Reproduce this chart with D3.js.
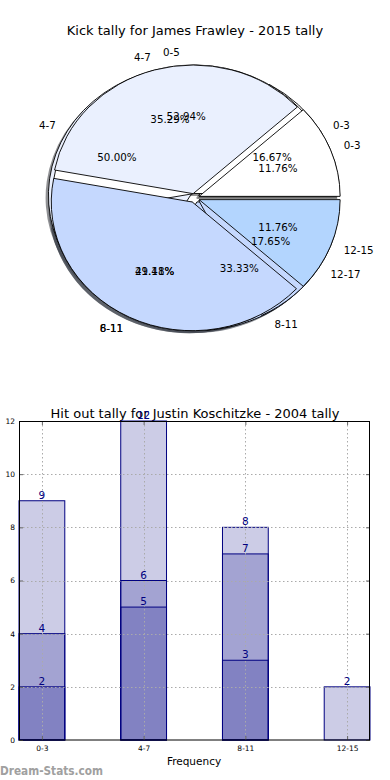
<!DOCTYPE html>
<html>
<head>
<meta charset="utf-8">
<script src="https://cdn.jsdelivr.net/npm/d3@7"></script>
<style>
  body { margin: 0; background: #fff; }
  svg { display: block; font-family: "DejaVu Sans", sans-serif; }
</style>
</head>
<body>
<div id="graf"></div>
<script>
// Pie data (three tallies drawn on top of each other)
const pieTitle = "Kick tally for James Frawley - 2015 tally"
const pieLabelsA = ["0-3", "4-7", "8-11"]
const pieValuesA = [1, 3, 2]
const pieLabelsC = ["0-5", "6-11", "12-17"]
const pieValuesC = [9, 5, 3]
const pieLabelsB = ["0-3", "4-7", "8-11", "12-15"]
const pieValuesB = [2, 6, 7, 2]
const pieColors = ["#ffffff", "#eaf0fe", "#c5d8fe", "#b3d5fe"]

// Bar data
const barTitle = "Hit out tally for Justin Koschitzke - 2004 tally"
const barCats = ["0-3", "4-7", "8-11", "12-15"]
const hitsTop = [9, 12, 8, 2]
const hitsMid = [4, 6, 7, 0]
const hitsLow = [2, 5, 3, 0]
const yTicks = [0, 2, 4, 6, 8, 10, 12]

const draw = () => {
  const W = 390
  const H = 780
  const svg = d3.select("#graf").append("svg").attr("width", W).attr("height", H)

  // ---------- Pie ----------
  const cx = 194.5
  const cy = 198
  const rx = 141
  const ry = 128.6
  const explode = 0.035

  svg.append("text")
    .attr("x", W / 2).attr("y", 35)
    .attr("text-anchor", "middle")
    .style("font-size", "13px")
    .text(pieTitle)

  const pie = d3.pie().sort(null)
    .startAngle(Math.PI / 2)
    .endAngle(Math.PI / 2 - 2 * Math.PI)
  const arc = d3.arc().innerRadius(0).outerRadius(1)
  const pct = d3.format(".2%")

  const pies = [
    { labels: pieLabelsA, values: pieValuesA },
    { labels: pieLabelsC, values: pieValuesC },
    { labels: pieLabelsB, values: pieValuesB },
  ].map((p) => {
    const total = d3.sum(p.values)
    return pie(p.values).map((d, i) => {
      const m = (d.startAngle + d.endAngle) / 2
      return {
        ...d,
        label: p.labels[i],
        share: d.value / total,
        color: pieColors[i],
        ux: Math.sin(m),
        uy: -Math.cos(m),
      }
    })
  })

  const shadowLayer = svg.append("g")
  const wedgeLayer = svg.append("g")
  const textLayer = svg.append("g")

  pies.forEach((slices) => {
    slices.forEach((d) => {
      const ox = cx + rx * explode * d.ux
      const oy = cy + ry * explode * d.uy
      const c = d3.rgb(d.color)
      shadowLayer.append("path")
        .attr("d", arc(d))
        .attr("transform", `translate(${ox - 0.02 * rx}, ${oy + 0.02 * ry}) scale(${rx}, ${ry})`)
        .attr("fill", d3.rgb(c.r * 0.3, c.g * 0.3, c.b * 0.3))
        .attr("fill-opacity", 0.6)
      wedgeLayer.append("path")
        .attr("d", arc(d))
        .attr("transform", `translate(${ox}, ${oy}) scale(${rx}, ${ry})`)
        .attr("fill", d.color)
        .attr("stroke", "#000")
        .attr("stroke-width", 0.9)
        .attr("vector-effect", "non-scaling-stroke")
      // outer labels
      textLayer.append("text")
        .attr("x", ox + 1.1 * rx * d.ux)
        .attr("y", oy + 1.1 * ry * d.uy)
        .attr("dy", "0.35em")
        .attr("text-anchor", d.ux >= 0 ? "start" : "end")
        .style("font-size", "10.3px")
        .text(d.label)
      // percentages
      textLayer.append("text")
        .attr("x", ox + 0.6 * rx * d.ux)
        .attr("y", oy + 0.6 * ry * d.uy)
        .attr("dy", "0.35em")
        .attr("text-anchor", "middle")
        .style("font-size", "10.3px")
        .text(pct(d.share))
    })
  })

  // ---------- Bars ----------
  const x = d3.scaleLinear().domain([-0.225, barCats.length - 1 + 0.225]).range([19, 370])
  const y = d3.scaleLinear().domain([0, 12]).range([740, 421])
  const barW = x(0.45) - x(0)

  svg.append("text")
    .attr("x", W / 2).attr("y", 418)
    .attr("text-anchor", "middle")
    .style("font-size", "13px")
    .text(barTitle)

  const chart = svg.append("g")
  const series = [hitsTop, hitsMid, hitsLow]
  series.forEach((vals) => {
    const rows = vals.map((v, i) => ({ v, i })).filter((d) => d.v > 0)
    chart.append("g")
      .selectAll("rect")
      .data(rows)
      .join("rect")
      .attr("x", (d) => x(d.i) - barW / 2)
      .attr("y", (d) => y(d.v))
      .attr("width", barW)
      .attr("height", (d) => y(0) - y(d.v))
      .attr("fill", "#000080")
      .attr("fill-opacity", 0.2)
      .attr("stroke", "#000080")
      .attr("stroke-width", 1)
  })

  // grid on top of bars
  const grid = svg.append("g")
    .attr("stroke", "#aaa")
    .attr("stroke-dasharray", "1.5,2.5")
    .attr("stroke-width", 1)
  grid.selectAll("line.h").data(yTicks.slice(1, -1)).join("line")
    .attr("x1", 19).attr("x2", 370)
    .attr("y1", (d) => Math.round(y(d)) + 0.5).attr("y2", (d) => Math.round(y(d)) + 0.5)
  grid.selectAll("line.v").data(d3.range(barCats.length)).join("line")
    .attr("y1", 421).attr("y2", 740)
    .attr("x1", (d) => Math.round(x(d)) + 0.5).attr("x2", (d) => Math.round(x(d)) + 0.5)

  // value labels
  series.forEach((vals) => {
    svg.append("g")
      .selectAll("text")
      .data(vals.map((v, i) => ({ v, i })).filter((d) => d.v > 0))
      .join("text")
      .attr("x", (d) => x(d.i))
      .attr("y", (d) => y(d.v) - 2)
      .attr("text-anchor", "middle")
      .attr("fill", "#000080")
      .style("font-size", "10.5px")
      .text((d) => d.v)
  })

  // axes
  const xAxis = d3.axisBottom(x)
    .tickValues(d3.range(barCats.length))
    .tickFormat((d) => barCats[d])
    .tickSize(-4).tickSizeOuter(0).tickPadding(6)
  const yAxis = d3.axisLeft(y)
    .tickValues(yTicks)
    .tickSize(-4).tickSizeOuter(0).tickPadding(4)

  const xAxisGroup = svg.append("g").attr("transform", `translate(0, 740)`).call(xAxis)
  const yAxisGroup = svg.append("g").attr("transform", `translate(19, 0)`).call(yAxis)
  ;[xAxisGroup, yAxisGroup].forEach((g) => {
    g.select(".domain").remove()
    g.selectAll(".tick line").attr("stroke", "#666")
    g.selectAll(".tick text").style("font-size", "7.5px").attr("fill", "#000").style("font-family", "DejaVu Sans")
  })
  // mirrored ticks top/right
  svg.append("g").attr("transform", `translate(0, 421)`)
    .call(d3.axisTop(x).tickValues(d3.range(barCats.length)).tickSize(-4).tickSizeOuter(0).tickFormat(""))
    .call((g) => g.select(".domain").remove())
    .selectAll(".tick line").attr("stroke", "#666")
  svg.append("g").attr("transform", `translate(370, 0)`)
    .call(d3.axisRight(y).tickValues(yTicks).tickSize(-4).tickSizeOuter(0).tickFormat(""))
    .call((g) => g.select(".domain").remove())
    .selectAll(".tick line").attr("stroke", "#666")

  // frame
  svg.append("rect")
    .attr("x", 19.5).attr("y", 421.5)
    .attr("width", 350).attr("height", 318.5)
    .attr("fill", "none").attr("stroke", "#000").attr("stroke-width", 1)

  svg.append("text")
    .attr("x", 194).attr("y", 765)
    .attr("text-anchor", "middle")
    .style("font-size", "10.5px")
    .text("Frequency")

  // watermark
  svg.append("text")
    .attr("x", 0).attr("y", 775)
    .attr("fill", "#a0a0a0")
    .style("font-size", "12px")
    .style("font-weight", "bold")
    .attr("textLength", 103)
    .attr("lengthAdjust", "spacingAndGlyphs")
    .text("Dream-Stats.com")
}

draw()
</script>
</body>
</html>
